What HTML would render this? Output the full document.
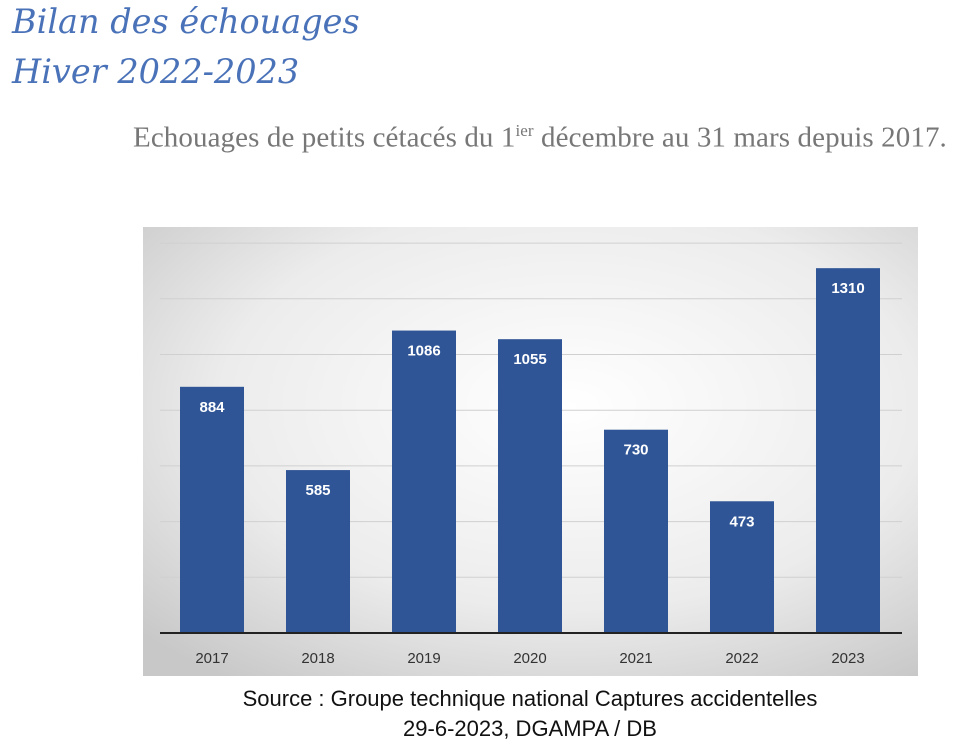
<!DOCTYPE html>
<html><head><meta charset="utf-8"><style>
body{margin:0;width:960px;height:756px;background:#fff;overflow:hidden;position:relative;font-family:"Liberation Sans",sans-serif}
.t{position:absolute;left:12px;font-family:"DejaVu Serif","Liberation Serif",serif;font-style:italic;color:#4a72b8;font-size:33.5px;line-height:40px}
.sub{position:absolute;left:133px;top:121px;font-family:"Liberation Serif",serif;color:#777;font-size:29px;white-space:nowrap;letter-spacing:0.1px}
.src{position:absolute;left:0;width:1060px;text-align:center;font-size:22px;color:#111}
</style></head><body>
<div class="t" style="top:2px">Bilan des échouages</div>
<div class="t" style="top:52px">Hiver 2022-2023</div>
<div class="sub">Echouages de petits cétacés du 1<sup style="font-size:17px">ier</sup> décembre au 31 mars depuis 2017.</div>
<svg id="chart" width="960" height="756" style="position:absolute;left:0;top:0">
<defs><radialGradient id="bg" cx="0.55" cy="0.4" r="0.75"><stop offset="0" stop-color="#ffffff"/><stop offset="0.6" stop-color="#ececec"/><stop offset="1" stop-color="#c8c8c8"/></radialGradient></defs>
<rect x="143" y="227" width="775" height="449" fill="url(#bg)"/>
<g id="grid"></g><g id="bars"></g><g id="labels"></g>
</svg>
<div class="src" style="top:686px">Source : Groupe technique national Captures accidentelles</div>
<div class="src" style="top:716px">29-6-2023, DGAMPA / DB</div>
<script>
const categories=["2017","2018","2019","2020","2021","2022","2023"];
const values=[884,585,1086,1055,730,473,1310];
const gridTicks=[200,400,600,800,1000,1200,1400];
const NS="http://www.w3.org/2000/svg";
const y0=633,ppu=0.2785,x0=212,step=106,bw=64;
const y=v=>y0-v*ppu, x=i=>x0+i*step;
function mk(t,a,p){const e=document.createElementNS(NS,t);for(const k in a)e.setAttribute(k,a[k]);p.appendChild(e);return e;}
const g=document.getElementById('grid'),b=document.getElementById('bars'),l=document.getElementById('labels');
gridTicks.forEach(v=>{const e=mk('line',{x1:160,x2:902,y1:y(v),y2:y(v),stroke:'#d0d0d0','stroke-width':1},g);

});
categories.forEach((c,i)=>{
const r=mk('rect',{x:x(i)-bw/2,y:y(values[i]),width:bw,height:values[i]*ppu,fill:'#2f5597'},b);


const t=mk('text',{x:x(i),y:y(values[i])+25,'text-anchor':'middle',fill:'#fff','font-size':15,'font-weight':'bold'},l);
t.textContent=values[i];


const a=mk('text',{x:x(i),y:663,'text-anchor':'middle',fill:'#333','font-size':15},l);
a.textContent=c;


});
const ax=mk('line',{x1:160,x2:902,y1:y0,y2:y0,stroke:'#222','stroke-width':2},l);


</script>
</body></html>
